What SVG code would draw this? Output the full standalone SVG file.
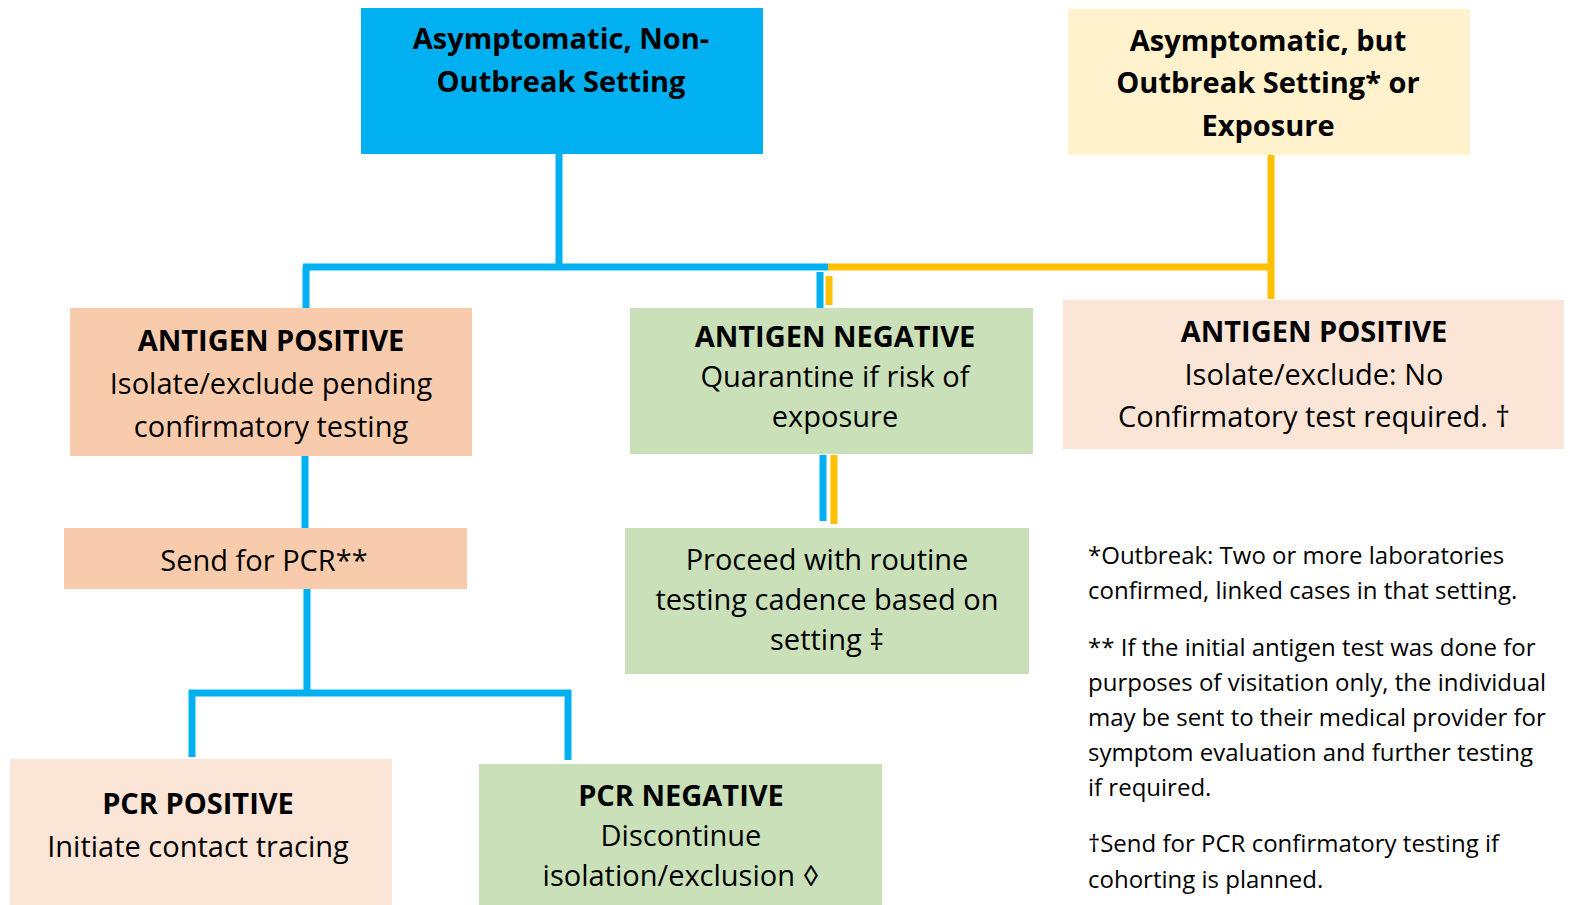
<svg xmlns="http://www.w3.org/2000/svg" width="1575" height="905" viewBox="0 0 1575 905">
<style>
text{font-family:"Open Sans","Liberation Sans",sans-serif;fill:#000;text-anchor:middle}
.t{font-size:29px}
.b{font-size:29px;font-weight:bold}
.n{font-size:24px;text-anchor:start}
.bl{stroke:#00B0F0;stroke-width:7;fill:none}
.ye{stroke:#FFC000;stroke-width:7;fill:none}
</style>
<rect width="1575" height="905" fill="#fff"/>
<g id="connectors">
<path class="bl" d="M559,154V267M303,267H828M306,267V310M820,272V312M823,455V521M305,456V528M307,589V693M189,693H571M192,690V757M568,690V760"/>
<path class="ye" d="M828,267H1272M1271,155V299M829,276V305M834,455V524"/>
</g>
<g id="n1"><rect x="361" y="8" width="402" height="146" fill="#00B0F0"/>
<text class="b" x="561" y="49">Asymptomatic, Non-</text><text class="b" x="561" y="92">Outbreak Setting</text></g>
<g id="n2"><rect x="1068" y="9" width="402" height="146" fill="#FFF2CC"/>
<text class="b" x="1268" y="51">Asymptomatic, but</text><text class="b" x="1268" y="93">Outbreak Setting* or</text><text class="b" x="1268" y="136">Exposure</text></g>
<g id="n3"><rect x="70" y="308" width="402" height="148" fill="#F8CBAD"/>
<text class="b" x="271" y="351">ANTIGEN POSITIVE</text><text class="t" x="271" y="394">Isolate/exclude pending</text><text class="t" x="271" y="437">confirmatory testing</text></g>
<g id="n4"><rect x="630" y="308" width="403" height="146" fill="#C9E0B8"/>
<text class="b" x="835" y="347">ANTIGEN NEGATIVE</text><text class="t" x="835" y="387">Quarantine if risk of</text><text class="t" x="835" y="427">exposure</text></g>
<g id="n5"><rect x="1063" y="300" width="501" height="149" fill="#FBE5D6"/>
<text class="b" x="1314" y="342">ANTIGEN POSITIVE</text><text class="t" x="1314" y="385">Isolate/exclude: No</text><text class="t" x="1314" y="427">Confirmatory test required. †</text></g>
<g id="n6"><rect x="64" y="528" width="403" height="61" fill="#F8CBAD"/>
<text class="t" x="264" y="571">Send for PCR**</text></g>
<g id="n7"><rect x="625" y="528" width="404" height="146" fill="#C9E0B8"/>
<text class="t" x="827" y="570">Proceed with routine</text><text class="t" x="827" y="610">testing cadence based on</text><text class="t" x="827" y="650">setting ‡</text></g>
<g id="n8"><rect x="10" y="759" width="382" height="146" fill="#FBE5D6"/>
<text class="b" x="198" y="814">PCR POSITIVE</text><text class="t" x="198" y="857">Initiate contact tracing</text></g>
<g id="n9"><rect x="479" y="764" width="403" height="141" fill="#C9E0B8"/>
<text class="b" x="681" y="806">PCR NEGATIVE</text><text class="t" x="681" y="846">Discontinue</text><text class="t" x="681" y="886">isolation/exclusion ◊</text></g>
<g id="notes">
<text class="n" x="1088" y="564">*Outbreak: Two or more laboratories</text>
<text class="n" x="1088" y="599">confirmed, linked cases in that setting.</text>
<text class="n" x="1088" y="656">** If the initial antigen test was done for</text>
<text class="n" x="1088" y="691">purposes of visitation only, the individual</text>
<text class="n" x="1088" y="726">may be sent to their medical provider for</text>
<text class="n" x="1088" y="761">symptom evaluation and further testing</text>
<text class="n" x="1088" y="796">if required.</text>
<text class="n" x="1088" y="852">†Send for PCR confirmatory testing if</text>
<text class="n" x="1088" y="888">cohorting is planned.</text>
</g>
</svg>
